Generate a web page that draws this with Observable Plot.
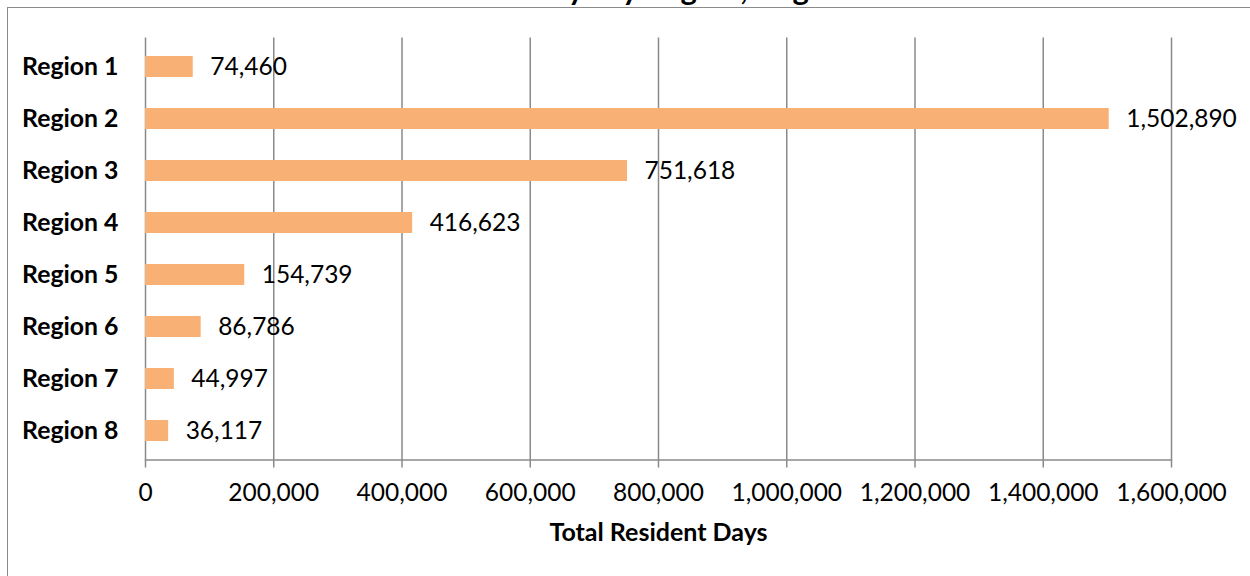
<!DOCTYPE html>
<html>
<head>
<meta charset="utf-8">
<script src="https://cdn.jsdelivr.net/npm/d3@7"></script>
<script src="https://cdn.jsdelivr.net/npm/@observablehq/plot@0.6"></script>
<style>
  html, body { margin: 0; padding: 0; background: #fff; overflow: hidden; }
  #wrap { position: relative; width: 1250px; height: 576px; overflow: hidden; }
  #frame { position: absolute; left: 7px; top: 7px; width: 1300px; height: 700px; border: 1.5px solid #8a8a8a; box-sizing: border-box; }
  #title { position: absolute; top: -27px; left: 8px; width: 1242px; text-align: center; font-family: Lato, sans-serif; font-weight: bold; font-size: 31px; line-height: 31px; white-space: nowrap; }
  #chart { position: absolute; left: 0; top: 0; }
</style>
</head>
<body>
<div id="wrap">
  <div id="frame"></div>
  <div id="title">Total Resident Days by Region, August 2012</div>
  <div id="chart"></div>
</div>
<script>
const regions = ["Region 1", "Region 2", "Region 3", "Region 4", "Region 5", "Region 6", "Region 7", "Region 8"];
const residentDays = [74460, 1502890, 751618, 416623, 154739, 86786, 44997, 36117];
const xTicks = [0, 200000, 400000, 600000, 800000, 1000000, 1200000, 1400000, 1600000];
const xLabel = "Total Resident Days";

const data = regions.map((r, i) => ({region: r, value: residentDays[i]}));
const fmt = d3.format(",");

const chart = Plot.plot({
  width: 1250,
  height: 576,
  marginLeft: 145,
  marginRight: 79,
  marginTop: 37.5,
  marginBottom: 116.5,
  style: {fontFamily: "Lato, sans-serif", fontSize: "24.5px", color: "#000", background: "transparent"},
  x: {domain: [0, 1600000], label: null},
  y: {domain: regions, paddingInner: 0.6, paddingOuter: 0.3, label: null},
  marks: [
    Plot.ruleX(xTicks, {stroke: "#8a8a8a", strokeWidth: 1.5, strokeOpacity: 1}),
    Plot.frame({anchor: "bottom", stroke: "#8a8a8a", strokeWidth: 1.5}),
    Plot.barX(data, {x: "value", y: "region", fill: "#F9B074"}),
    Plot.text(data, {x: "value", y: "region", text: d => fmt(d.value), textAnchor: "start", dx: 17, fill: "#000", fontSize: 24.5}),
    Plot.axisX({ticks: xTicks, tickFormat: fmt, tickSize: 8, tickPadding: 16, stroke: "#8a8a8a", strokeWidth: 1.5, strokeOpacity: 1, fill: "#000", label: null, fontSize: 24.5}),
    Plot.axisY({tickSize: 0, tickPadding: 27, fontWeight: "bold", fill: "#000", label: null, fontSize: 24.8}),
    Plot.text([xLabel], {frameAnchor: "bottom", dy: 81, fontWeight: "bold", fontSize: 25, fill: "#000"})
  ]
});
document.getElementById("chart").appendChild(chart);
</script>
</body>
</html>
